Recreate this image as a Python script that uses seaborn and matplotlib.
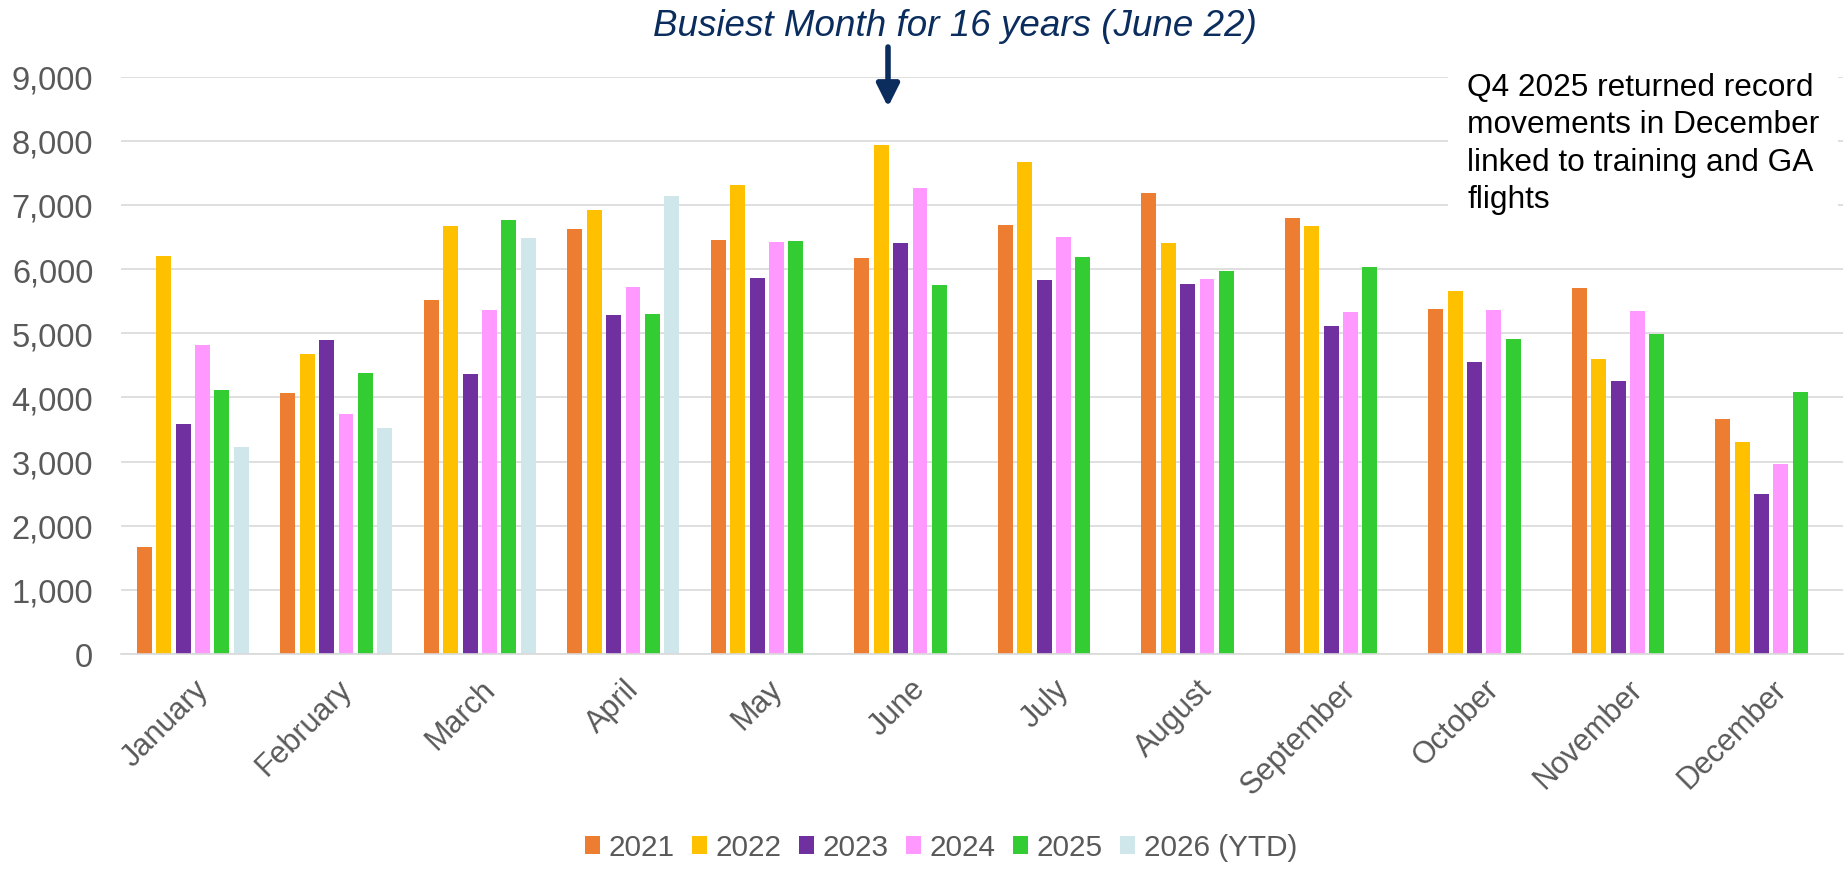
import pandas as pd
import matplotlib.pyplot as plt
import seaborn as sns

months = ["January", "February", "March", "April", "May", "June", "July",
          "August", "September", "October", "November", "December"]
years = ["2021", "2022", "2023", "2024", "2025", "2026 (YTD)"]

y2021 = [1670, 4070, 5515, 6620, 6445, 6175, 6685, 7180, 6790, 5380, 5705, 3670]
y2022 = [6200, 4670, 6670, 6920, 7305, 7940, 7675, 6405, 6670, 5660, 4605, 3300]
y2023 = [3590, 4900, 4370, 5280, 5865, 6400, 5825, 5760, 5105, 4545, 4250, 2500]
y2024 = [4820, 3740, 5360, 5720, 6420, 7260, 6495, 5845, 5335, 5365, 5340, 2955]
y2025 = [4120, 4375, 6770, 5305, 6435, 5755, 6185, 5965, 6025, 4915, 4990, 4090]
y2026 = [3220, 3530, 6490, 7140]

colors = ["#ED7D31", "#FFC000", "#7030A0", "#FF99FF", "#33CC33", "#CFE7EA"]

rows = []
for year, vals in zip(years, [y2021, y2022, y2023, y2024, y2025, y2026]):
    for m, v in zip(months, vals):
        rows.append({"month": m, "year": year, "movements": v})
df = pd.DataFrame(rows)

sns.set_style("white")
plt.rcParams["font.family"] = ["Liberation Sans", "DejaVu Sans"]

fig = plt.figure(figsize=(18.48, 8.70), dpi=100)
ax = fig.add_axes([0.0655, 0.2471, 0.9318, 0.6638])

sns.barplot(data=df, x="month", y="movements", hue="year", order=months,
            hue_order=years, palette=dict(zip(years, colors)), saturation=1,
            width=0.81, gap=0.23, linewidth=0, ax=ax)

ax.set_ylim(0, 9000)
ax.set_yticks(range(0, 9001, 1000))
ax.set_yticklabels([f"{t:,}" for t in range(0, 9001, 1000)])
ax.grid(axis="y", color="#D9D9D9", linewidth=1.2)
ax.set_axisbelow(True)
for s in ["top", "left", "right"]:
    ax.spines[s].set_visible(False)
ax.spines["bottom"].set_color("#D9D9D9")
ax.spines["bottom"].set_linewidth(1.2)
ax.set_xlabel("")
ax.set_ylabel("")
ax.tick_params(axis="y", length=0, pad=20, labelsize=23.5, labelcolor="#595959")
ax.tick_params(axis="x", length=0, pad=14, labelsize=22, labelcolor="#595959")
for lab in ax.get_xticklabels():
    lab.set_rotation(45)
    lab.set_ha("right")
    lab.set_va("top")
    lab.set_rotation_mode("anchor")

handles, labels = ax.get_legend_handles_labels()
ax.get_legend().remove()
fig.legend(handles, labels, loc="center", bbox_to_anchor=(941 / 1848, 0.025),
           ncol=6, frameon=False, fontsize=21.4, labelcolor="#595959",
           handlelength=0.52, handleheight=0.55, handletextpad=0.29,
           columnspacing=0.57)

# headline with arrow pointing at June 2022
navy = "#0B2D5E"
fig.text(955 / 1848, 1 - 27 / 870, "Busiest Month for 16 years (June 22)",
         ha="center", va="center", fontsize=26.5, style="italic", color=navy)
fig.add_artist(plt.matplotlib.patches.FancyArrowPatch(
    (888 / 1848, 1 - 48 / 870), (888 / 1848, 1 - 108 / 870),
    transform=fig.transFigure, arrowstyle="-|>,head_length=0.68,head_width=0.34",
    mutation_scale=20, lw=4, color=navy, shrinkA=0, shrinkB=0))

fig.text(1467 / 1848, 1 - 73 / 870,
         "Q4 2025 returned record\nmovements in December\nlinked to training and GA\nflights",
         ha="left", va="top", fontsize=22.8, color="black", linespacing=1.32,
         bbox=dict(facecolor="white", edgecolor="none", boxstyle="square,pad=0.6"))

plt.savefig("out.png", dpi=100)
